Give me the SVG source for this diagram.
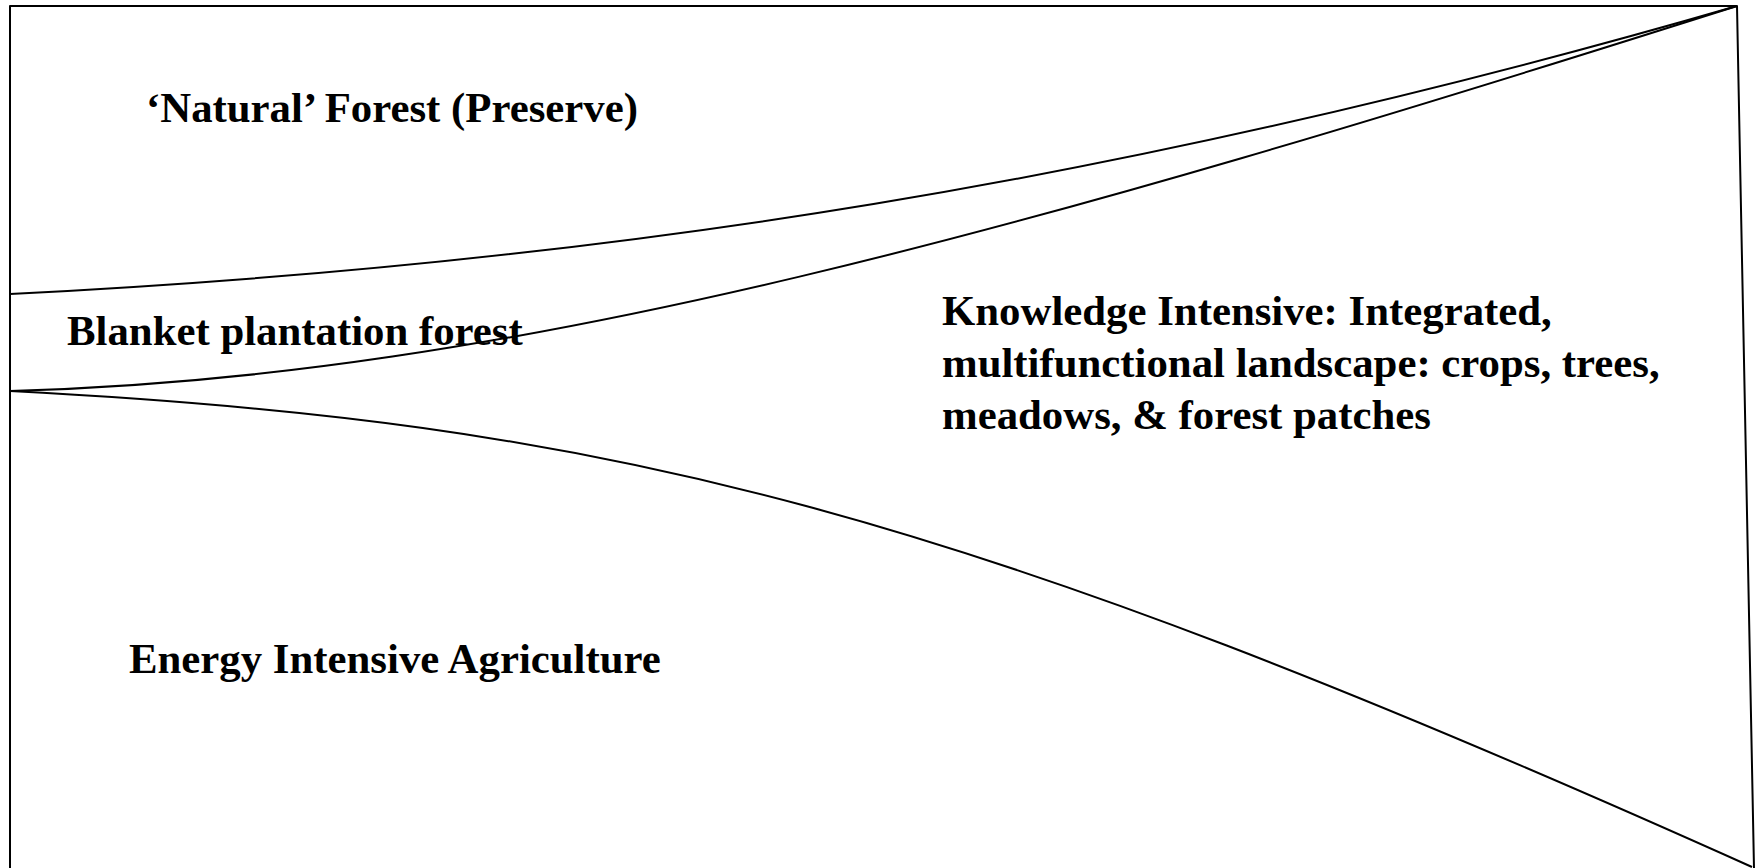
<svg xmlns="http://www.w3.org/2000/svg" width="1759" height="868" viewBox="0 0 1759 868">
  <style>
    .ln { fill: none; stroke: #000; stroke-width: 2; stroke-linejoin: round; }
    .lbl { font-family: "Liberation Serif", "Times New Roman", serif; font-weight: bold; font-size: 42.8px; fill: #000; }
  </style>
  <rect x="0" y="0" width="1759" height="868" fill="#fff"/>
  <g id="connectors">
    <path class="ln" d="M10,868 L10,6 L1737,6 L1754,868"/>
    <path class="ln" d="M10,294 C610,264 1137,180 1737,6"/>
    <path class="ln" d="M10,391 C510,378 1037,228 1737,6"/>
    <path class="ln" d="M10,391 C610,422 952,508 1752,867"/>
  </g>
  <g id="natural-forest">
    <text class="lbl" x="146" y="122">‘Natural’ Forest (Preserve)</text>
  </g>
  <g id="blanket-plantation">
    <text class="lbl" x="67" y="345">Blanket plantation forest</text>
  </g>
  <g id="knowledge-intensive">
    <text class="lbl" x="942" y="325">Knowledge Intensive: Integrated,</text>
    <text class="lbl" x="942" y="377">multifunctional landscape: crops, trees,</text>
    <text class="lbl" x="942" y="429">meadows, &amp; forest patches</text>
  </g>
  <g id="energy-intensive">
    <text class="lbl" x="129" y="673">Energy Intensive Agriculture</text>
  </g>
</svg>
